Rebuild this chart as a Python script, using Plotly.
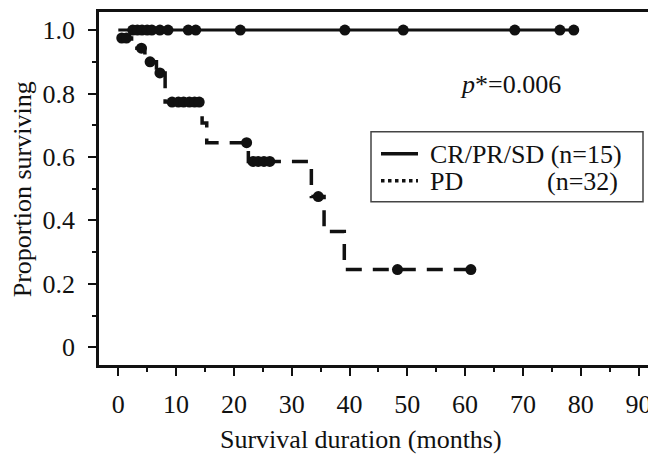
import plotly.graph_objects as go

# ---- data ----
cr_line_x = [0, 79.5]
cr_line_y = [1.0, 1.0]
cr_cens_x = [2.5, 3.3, 4.1, 5.0, 5.8, 7.2, 8.6, 12.1, 13.4, 21.1, 39.2, 49.3, 68.6, 76.4, 78.8]
cr_cens_y = [1.0] * len(cr_cens_x)

pd_step_x = [0, 2.3, 4.6, 6.6, 8.1, 14.5, 15.3, 22.5, 33.4, 35.6, 39.1, 61.0]
pd_step_y = [0.975, 0.943, 0.900, 0.865, 0.773, 0.707, 0.645, 0.586, 0.475, 0.365, 0.245, 0.245]
pd_cens_x = [0.6, 1.4, 4.0, 5.5, 7.2, 9.3, 10.4, 11.3, 12.3, 13.2, 14.0, 22.2, 23.3, 24.2, 25.2, 26.2, 34.6, 48.3, 61.0]
pd_cens_y = [0.975, 0.975, 0.943, 0.900, 0.865, 0.773, 0.773, 0.773, 0.773, 0.773, 0.773,
             0.645, 0.586, 0.586, 0.586, 0.586, 0.475, 0.245, 0.245]

x_ticks = [0, 10, 20, 30, 40, 50, 60, 70, 80, 90]
y_ticks = [0, 0.2, 0.4, 0.6, 0.8, 1.0]
y_ticklabels = ["0", "0.2", "0.4", "0.6", "0.8", "1.0"]

legend_labels = ["CR/PR/SD (n=15)", "PD", "(n=32)"]

FONT = "Liberation Serif"
FS = 26
BLACK = "#111111"

fig = go.Figure()
fig.add_trace(go.Scatter(x=cr_line_x, y=cr_line_y, mode="lines", name="CR/PR/SD",
                         line=dict(color=BLACK, width=3), showlegend=False, hoverinfo="skip"))
fig.add_trace(go.Scatter(x=cr_cens_x, y=cr_cens_y, mode="markers",
                         marker=dict(color=BLACK, size=11), showlegend=False))
fig.add_trace(go.Scatter(x=pd_step_x, y=pd_step_y, mode="lines", line_shape="hv", name="PD",
                         line=dict(color=BLACK, width=3.5, dash="16px,11px"),
                         showlegend=False, hoverinfo="skip"))
fig.add_trace(go.Scatter(x=pd_cens_x, y=pd_cens_y, mode="markers",
                         marker=dict(color=BLACK, size=11), showlegend=False))

fig.add_annotation(x=67.8, y=0.83, xref="x", yref="y", text="<i>p</i>*=0.006",
                   showarrow=False, font=dict(family=FONT, size=FS, color=BLACK))

# page layout in pixels (body margin removed by post_script)
W, H = 648, 459
PL, PT, PB, PR = 99, 12, 365.5, 648
ml, mt, mr = PL, PT, W - PR
mb = H - PB
pw, ph = PR - PL, PB - PT
x_right = (PR - 118.3) / 5.78


def px(xp):
    return (xp - PL) / pw


def py(yp):
    return (PB - yp) / ph


fig.add_annotation(x=px(22.5), y=py(190), xref="paper", yref="paper",
                   text="Proportion surviving", textangle=-90, showarrow=False,
                   font=dict(family=FONT, size=FS, color=BLACK), xanchor="center", yanchor="middle")
fig.add_annotation(x=px(361), y=py(440), xref="paper", yref="paper",
                   text="Survival duration (months)", showarrow=False,
                   font=dict(family=FONT, size=FS, color=BLACK), xanchor="center", yanchor="middle")

# legend box drawn by hand (legend lines are solid / dotted as in the original)
fig.add_shape(type="rect", xref="paper", yref="paper", x0=px(371), x1=px(643), y0=py(202), y1=py(132),
              line=dict(color="#444", width=1.5), fillcolor="white", layer="above")
fig.add_shape(type="line", xref="paper", yref="paper", x0=px(381), x1=px(418), y0=py(154), y1=py(154),
              line=dict(color=BLACK, width=3.5), layer="above")
fig.add_shape(type="line", xref="paper", yref="paper", x0=px(381), x1=px(418), y0=py(181), y1=py(181),
              line=dict(color=BLACK, width=3.5, dash="dot"), layer="above")
fig.add_annotation(x=px(428), y=py(155), xref="paper", yref="paper", text=legend_labels[0],
                   showarrow=False, xanchor="left", yanchor="middle",
                   font=dict(family=FONT, size=FS, color=BLACK))
fig.add_annotation(x=px(428), y=py(182), xref="paper", yref="paper", text=legend_labels[1],
                   showarrow=False, xanchor="left", yanchor="middle",
                   font=dict(family=FONT, size=FS, color=BLACK))
fig.add_annotation(x=px(620), y=py(182), xref="paper", yref="paper", text=legend_labels[2],
                   showarrow=False, xanchor="right", yanchor="middle",
                   font=dict(family=FONT, size=FS, color=BLACK))

fig.update_layout(
    width=W, height=H,
    margin=dict(l=ml, r=mr, t=mt, b=mb, pad=0, autoexpand=False),
    paper_bgcolor="white", plot_bgcolor="white",
    font=dict(family=FONT, size=FS, color=BLACK),
    showlegend=False,
    xaxis=dict(range=[-3.34, x_right], tickvals=x_ticks, ticks="outside", ticklen=8, tickwidth=2,
               tickcolor=BLACK, showline=True, linecolor=BLACK, linewidth=2.5, mirror=True,
               showgrid=False, zeroline=False, ticklabelstandoff=6, ticklabeloverflow="allow",
               minor=dict(dtick=5, ticks="outside", ticklen=4, tickwidth=2, tickcolor=BLACK, showgrid=False)),
    yaxis=dict(range=[-0.056, 1.057], tickvals=y_ticks, ticktext=y_ticklabels, ticks="outside",
               ticklen=8, tickwidth=2, tickcolor=BLACK, showline=True, linecolor=BLACK, linewidth=2.5,
               mirror=False, showgrid=False, zeroline=False, ticklabelstandoff=8,
               minor=dict(dtick=0.1, ticks="outside", ticklen=4, tickwidth=2, tickcolor=BLACK, showgrid=False)),
)

fig.write_html("out.html", config={"displayModeBar": False},
               post_script="document.body.style.margin='0';document.body.style.overflow='hidden';")
